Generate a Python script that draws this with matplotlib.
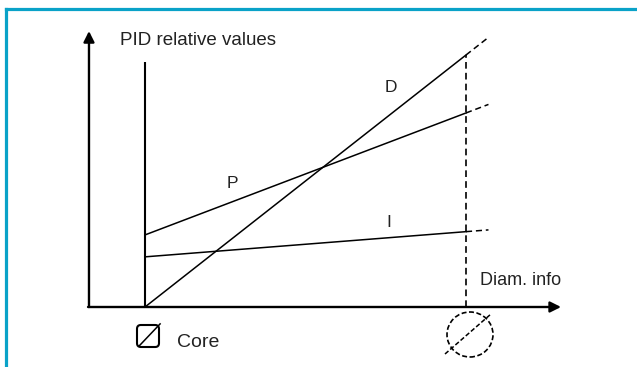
import numpy as np
import matplotlib
matplotlib.use("Agg")
import matplotlib.pyplot as plt
from matplotlib.patches import Ellipse, FancyBboxPatch
from matplotlib.lines import Line2D

plt.rcParams['font.family'] = ['Liberation Sans', 'DejaVu Sans']

# diameter: 0 = core, 1 = max diameter
diam = [0.0, 1.0]
ext_end = 1.07            # dashed extension beyond max diameter
p_vals = [0.286, 0.770]
i_vals = [0.199, 0.299]
d_vals = [0.0, 1.0]
labels = ["P", "I", "D"]

fig = plt.figure(figsize=(6.37, 3.67), dpi=100)
ax = fig.add_axes([0, 0, 1, 1])
# pixel layout: core at x=145, max at x=466, zero at y=307, D max at y=55
ax.set_xlim(-145 / 321, (637 - 145) / 321)
ax.set_ylim((307 - 367) / 252, 307 / 252)
ax.axis("off")

# frame border (top and left only)
border = '#0aa2c8'
fig.add_artist(Line2D([5.5 / 637, 1], [1 - 8.5 / 367, 1 - 8.5 / 367],
                      transform=fig.transFigure, color=border, lw=2.3))
fig.add_artist(Line2D([5.5 / 637, 5.5 / 637], [0, 1 - 8.5 / 367],
                      transform=fig.transFigure, color=border, lw=2.3))

# axes with arrows
x0 = -0.1745
arrow = dict(arrowstyle='-|>', color='black', lw=1.7, mutation_scale=16,
             shrinkA=0, shrinkB=0)
ax.annotate("", xy=(x0, 1.095), xytext=(x0, 0), arrowprops=arrow)
ax.annotate("", xy=(1.296, 0), xytext=(x0 - 0.003, 0), arrowprops=arrow)

# core vertical line
ax.plot([diam[0], diam[0]], [0, 0.972], color='black', lw=1.5,
        solid_capstyle='butt')
# max diameter dashed line
ax.plot([diam[1], diam[1]], [0, max(d_vals)], color='black', lw=1.2,
        linestyle=(0, (4, 2.5)))

for vals in (p_vals, i_vals, d_vals):
    ax.plot(diam, vals, color='black', lw=1.1)
    slope = (vals[1] - vals[0]) / (diam[1] - diam[0])
    ax.plot([diam[1], ext_end], [vals[1], vals[1] + slope * (ext_end - diam[1])],
            color='black', lw=1.1, linestyle=(0, (4, 2.5)))

tc = '#222222'
ax.text(-0.078, 1.056, "PID relative values", fontsize=13.5, color=tc,
        ha='left', va='center')
ax.text(0.271, 0.492, labels[0], fontsize=12.5, color=tc, ha='center', va='center')
ax.text(0.760, 0.337, labels[1], fontsize=12.5, color=tc, ha='center', va='center')
ax.text(0.766, 0.873, labels[2], fontsize=12.5, color=tc, ha='center', va='center')
ax.text(1.044, 0.107, "Diam. info", fontsize=13, color=tc, ha='left', va='center')
ax.text(0.10, -0.139, "Core", fontsize=14, color=tc, ha='left', va='center')

# small diameter symbol at core
sx, sy = (137 - 145) / 321, (307 - 347) / 252
sw, sh = 22 / 321, 22 / 252
ax.add_patch(FancyBboxPatch((sx, sy), sw, sh, boxstyle="round,pad=0,rounding_size=0.012",
                            fill=False, ec='black', lw=1.5, mutation_aspect=321 / 252))
ax.plot([sx + 0.1 * sw, sx + 1.05 * sw], [sy + 0.05 * sh, sy + 1.05 * sh],
        color='black', lw=1.1)

# big diameter symbol at max
cx, cy = (470 - 145) / 321, (307 - 334.5) / 252
ax.add_patch(Ellipse((cx, cy), 46 / 321, 45 / 252, fill=False, ec='black',
                     lw=1.2, linestyle=(0, (3, 1.5))))
ax.plot([(445 - 145) / 321, (491 - 145) / 321], [(307 - 354) / 252, (307 - 314) / 252],
        color='black', lw=1.1, linestyle=(0, (3, 1.5)))

fig.savefig("out.png", dpi=100)
